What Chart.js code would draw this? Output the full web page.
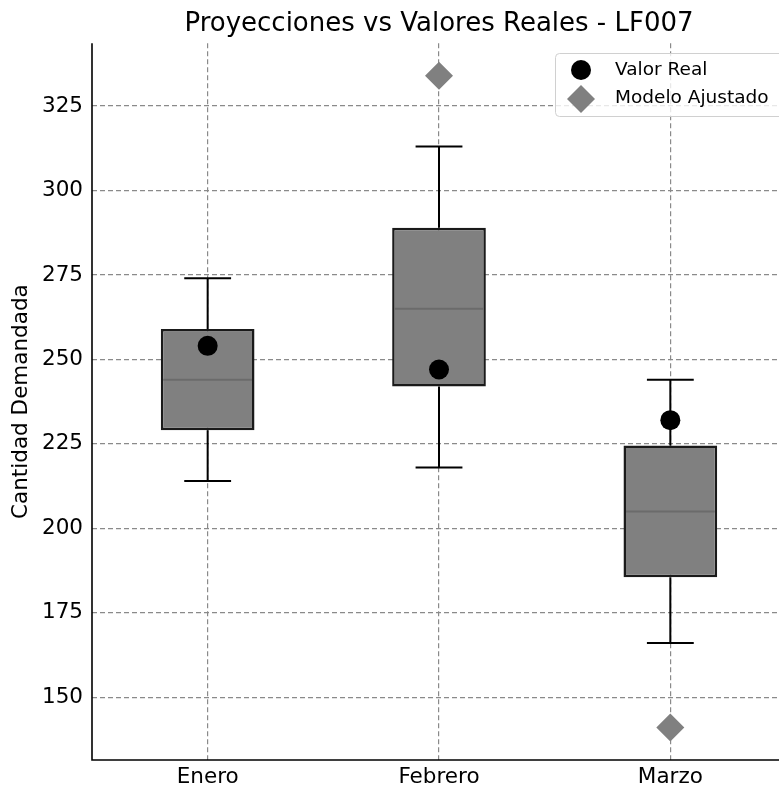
<!DOCTYPE html>
<html>
<head>
<meta charset="utf-8">
<script src="https://cdn.jsdelivr.net/npm/chart.js@4"></script>
<style>
html, body { margin: 0; padding: 0; background: #fff; overflow: hidden; }
#wrap { width: 779px; height: 789px; overflow: hidden; }
</style>
</head>
<body>
<div id="wrap"><canvas id="myChart" width="800" height="789"></canvas></div>
<script>
// values
var months = ['Enero', 'Febrero', 'Marzo'];
var whiskerLow = [214, 218, 166];
var boxLow = [229, 242, 185.5];
var medians = [244, 265, 205];
var boxHigh = [259, 289, 224.5];
var whiskerHigh = [274, 313, 244];
var realValues = [254, 247, 232];
var modelValues = [null, 334, 141];
var yTicks = [150, 175, 200, 225, 250, 275, 300, 325];

Chart.defaults.font.family = 'DejaVu Sans';
Chart.defaults.color = '#000';

// medians + whiskers on top of the boxes
var boxExtras = {
    id: 'boxExtras',
    afterDatasetDraw: function (chart, args) {
        if (args.index !== 0) return;
        var ctx = chart.ctx;
        var y = chart.scales.y;
        args.meta.data.forEach(function (bar, i) {
            var x = bar.x;
            var half = bar.width / 2;
            var cap = bar.width / 4;
            ctx.save();
            ctx.strokeStyle = '#6b6b6b';
            ctx.lineWidth = 2;
            ctx.beginPath();
            ctx.moveTo(x - half + 2.5, y.getPixelForValue(medians[i]));
            ctx.lineTo(x + half - 2.5, y.getPixelForValue(medians[i]));
            ctx.stroke();

            ctx.strokeStyle = '#000';
            ctx.lineWidth = 2;
            ctx.beginPath();
            ctx.moveTo(x, y.getPixelForValue(boxHigh[i]));
            ctx.lineTo(x, y.getPixelForValue(whiskerHigh[i]));
            ctx.moveTo(x - cap, y.getPixelForValue(whiskerHigh[i]));
            ctx.lineTo(x + cap, y.getPixelForValue(whiskerHigh[i]));
            ctx.moveTo(x, y.getPixelForValue(boxLow[i]));
            ctx.lineTo(x, y.getPixelForValue(whiskerLow[i]));
            ctx.moveTo(x - cap, y.getPixelForValue(whiskerLow[i]));
            ctx.lineTo(x + cap, y.getPixelForValue(whiskerLow[i]));
            ctx.stroke();
            ctx.restore();
        });
    }
};

// left/bottom spines and the legend box
var frameAndLegend = {
    id: 'frameAndLegend',
    afterDraw: function (chart) {
        var ctx = chart.ctx;
        var a = chart.chartArea;
        ctx.save();
        ctx.strokeStyle = '#000';
        ctx.lineWidth = 1.6;
        ctx.beginPath();
        ctx.moveTo(a.left, a.top);
        ctx.lineTo(a.left, a.bottom);
        ctx.lineTo(a.right, a.bottom);
        ctx.stroke();

        // legend
        ctx.beginPath();
        ctx.roundRect(555.5, 53.5, 260, 63, 4);
        ctx.fillStyle = 'rgba(255,255,255,0.8)';
        ctx.fill();
        ctx.strokeStyle = '#d0d0d0';
        ctx.lineWidth = 1;
        ctx.stroke();

        ctx.fillStyle = '#000';
        ctx.beginPath();
        ctx.arc(581, 70, 10, 0, Math.PI * 2);
        ctx.fill();

        ctx.fillStyle = '#808080';
        ctx.beginPath();
        ctx.moveTo(581, 85);
        ctx.lineTo(595, 99);
        ctx.lineTo(581, 113);
        ctx.lineTo(567, 99);
        ctx.closePath();
        ctx.fill();

        ctx.fillStyle = '#000';
        ctx.font = '18.5px "DejaVu Sans"';
        ctx.textBaseline = 'middle';
        ctx.fillText(chart.data.datasets[1].label, 615, 70);
        ctx.fillText(chart.data.datasets[2].label, 615, 98);
        ctx.restore();
    }
};

var ctx = document.getElementById('myChart').getContext('2d');
var myChart = new Chart(ctx, {
    type: 'bar',
    data: {
        labels: months,
        datasets: [{
            label: 'Caja',
            data: months.map(function (m, i) { return [boxLow[i], boxHigh[i]]; }),
            backgroundColor: '#808080',
            borderColor: '#1a1a1a',
            borderWidth: 2.5,
            borderSkipped: false,
            barPercentage: 0.405,
            categoryPercentage: 1,
            order: 2
        }, {
            type: 'line',
            label: 'Valor Real',
            data: realValues,
            showLine: false,
            pointStyle: 'circle',
            pointRadius: 10,
            pointBackgroundColor: '#000',
            pointBorderWidth: 0,
            order: 0
        }, {
            type: 'line',
            label: 'Modelo Ajustado',
            data: modelValues,
            showLine: false,
            pointStyle: 'rectRot',
            pointRadius: 14,
            pointBackgroundColor: '#808080',
            pointBorderWidth: 0,
            order: 1
        }]
    },
    options: {
        responsive: false,
        animation: false,
        layout: { padding: { left: 0, right: 12, top: 0, bottom: 0 } },
        plugins: {
            legend: { display: false },
            tooltip: { enabled: false },
            title: {
                display: true,
                text: 'Proyecciones vs Valores Reales - LF007',
                fullSize: false,
                color: '#000',
                font: { size: 26, weight: 'normal' },
                padding: { top: 8.5, bottom: 3.5 }
            }
        },
        scales: {
            x: {
                offset: true,
                grid: {
                    offset: false,
                    color: '#8a8a8a',
                    lineWidth: 1.2,
                    borderDash: [5, 3],
                    drawTicks: false
                },
                border: { display: false, dash: [5, 3] },
                ticks: { color: '#000', font: { size: 21.5 }, padding: 5 },
                afterFit: function (s) { s.height = 29; }
            },
            y: {
                min: 131.4,
                max: 343.6,
                afterBuildTicks: function (s) {
                    s.ticks = yTicks.map(function (v) { return { value: v }; });
                },
                grid: {
                    color: '#8a8a8a',
                    lineWidth: 1.2,
                    borderDash: [5, 3],
                    drawTicks: false
                },
                border: { display: false, dash: [5, 3] },
                ticks: { color: '#000', font: { size: 21.5 }, padding: 9 },
                title: {
                    display: true,
                    text: 'Cantidad Demandada',
                    color: '#000',
                    font: { size: 21.5 },
                    padding: { top: 9, bottom: 0 }
                },
                afterFit: function (s) { s.width = 92; }
            }
        }
    },
    plugins: [boxExtras, frameAndLegend]
});
</script>
</body>
</html>
